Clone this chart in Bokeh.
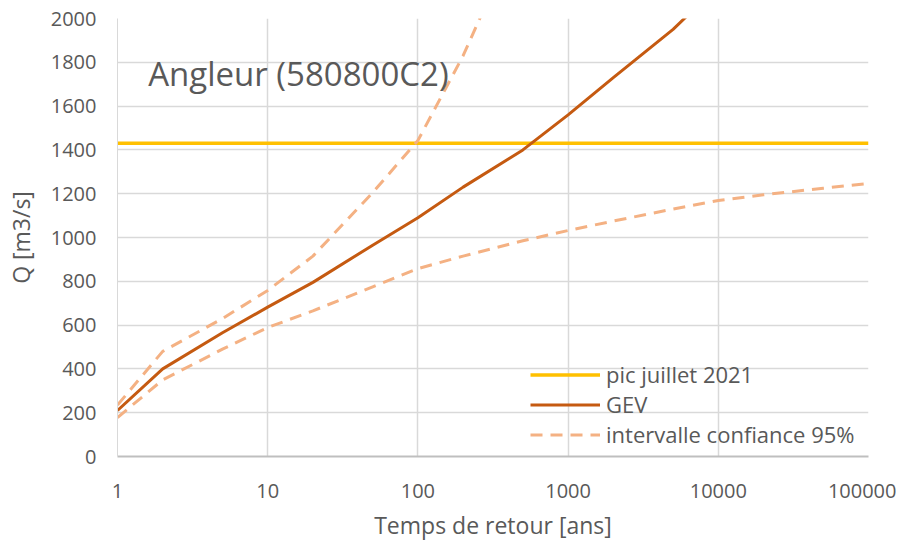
from bokeh.plotting import figure
from bokeh.models import Range1d, FixedTicker, Label, Legend, LegendItem
from bokeh.embed import file_html
from bokeh.resources import INLINE

# Data
pic_T = [1, 100000]
pic_Q = [1430, 1430]

gev_T = [1, 2, 5, 10, 20, 50, 100, 200, 500, 1000, 2000, 5000, 10000]
gev_Q = [210, 400, 565, 682, 795, 965, 1090, 1230, 1400, 1560, 1730, 1950, 2150]

up_T = [1, 2, 5, 10, 20, 50, 100, 200, 300]
up_Q = [235, 480, 630, 758, 915, 1205, 1443, 1830, 2100]

lo_T = [1, 2, 5, 10, 20, 50, 100, 200, 500, 1000, 2000, 5000, 10000, 20000, 50000, 100000]
lo_Q = [178, 350, 490, 589, 665, 775, 858, 915, 985, 1032, 1075, 1130, 1169, 1195, 1225, 1247]

x_ticks = [1, 10, 100, 1000, 10000, 100000]
x_labels = ["1", "10", "100", "1000", "10000", "100000"]
y_ticks = [0, 200, 400, 600, 800, 1000, 1200, 1400, 1600, 1800, 2000]

FONT = "Open Sans"
TXT = "#595959"
GRID = "#D9D9D9"

p = figure(width=896, height=530, x_axis_type="log",
           x_range=Range1d(1, 100000), y_range=Range1d(0, 2000),
           output_backend="svg", toolbar_location=None,
           frame_width=751, frame_height=438,
           min_border_left=117, min_border_top=18, min_border_right=28, min_border_bottom=74)
p.outline_line_color = None
p.background_fill_color = "white"

p.xaxis.ticker = FixedTicker(ticks=x_ticks, minor_ticks=[])
p.xaxis.major_label_overrides = {t: l for t, l in zip(x_ticks, x_labels)}
p.yaxis.ticker = FixedTicker(ticks=y_ticks, minor_ticks=[])

for ax in (p.xaxis[0], p.yaxis[0]):
    ax.major_tick_line_color = None
    ax.minor_tick_line_color = None
    ax.major_label_text_font = FONT
    ax.major_label_text_font_size = "20px"
    ax.major_label_text_color = TXT
    ax.axis_label_text_font = FONT
    ax.axis_label_text_font_size = "23px"
    ax.axis_label_text_color = TXT
    ax.axis_label_text_font_style = "normal"
p.xaxis.axis_line_color = "#BFBFBF"
p.xaxis.axis_line_width = 2
p.yaxis.axis_line_color = GRID
p.xaxis.major_label_standoff = 21
p.yaxis.major_label_standoff = 15
p.xaxis.axis_label = "Temps de retour [ans]"
p.yaxis.axis_label = "Q [m3/s]"
p.xaxis.axis_label_standoff = 8
p.yaxis.axis_label_standoff = 11

p.xgrid.grid_line_color = GRID
p.ygrid.grid_line_color = GRID
p.xgrid.grid_line_width = 1.5
p.ygrid.grid_line_width = 1.5

r_pic = p.line(pic_T, pic_Q, line_color="#FFC000", line_width=3.5)
r_gev = p.line(gev_T, gev_Q, line_color="#C55A11", line_width=3)
r_up = p.line(up_T, up_Q, line_color="#F4B183", line_width=3, line_dash="12 8")
r_lo = p.line(lo_T, lo_Q, line_color="#F4B183", line_width=3, line_dash="12 8")

p.add_layout(Label(x=1.6, y=1750, text="Angleur (580800C2)", text_font=FONT,
                   text_font_size="33px", text_color=TXT, text_baseline="alphabetic"))

legend = Legend(items=[LegendItem(label="pic juillet 2021", renderers=[r_pic]),
                       LegendItem(label="GEV", renderers=[r_gev]),
                       LegendItem(label="intervalle confiance 95%", renderers=[r_up])],
                location=(413, 7), padding=0, margin=0, spacing=0,
                glyph_width=70, glyph_height=27, label_height=27, label_standoff=6,
                label_text_font=FONT, label_text_font_size="22px", label_text_color=TXT,
                background_fill_alpha=0, border_line_alpha=0)
p.add_layout(legend)

open("out.html", "w").write(file_html(p, INLINE))
